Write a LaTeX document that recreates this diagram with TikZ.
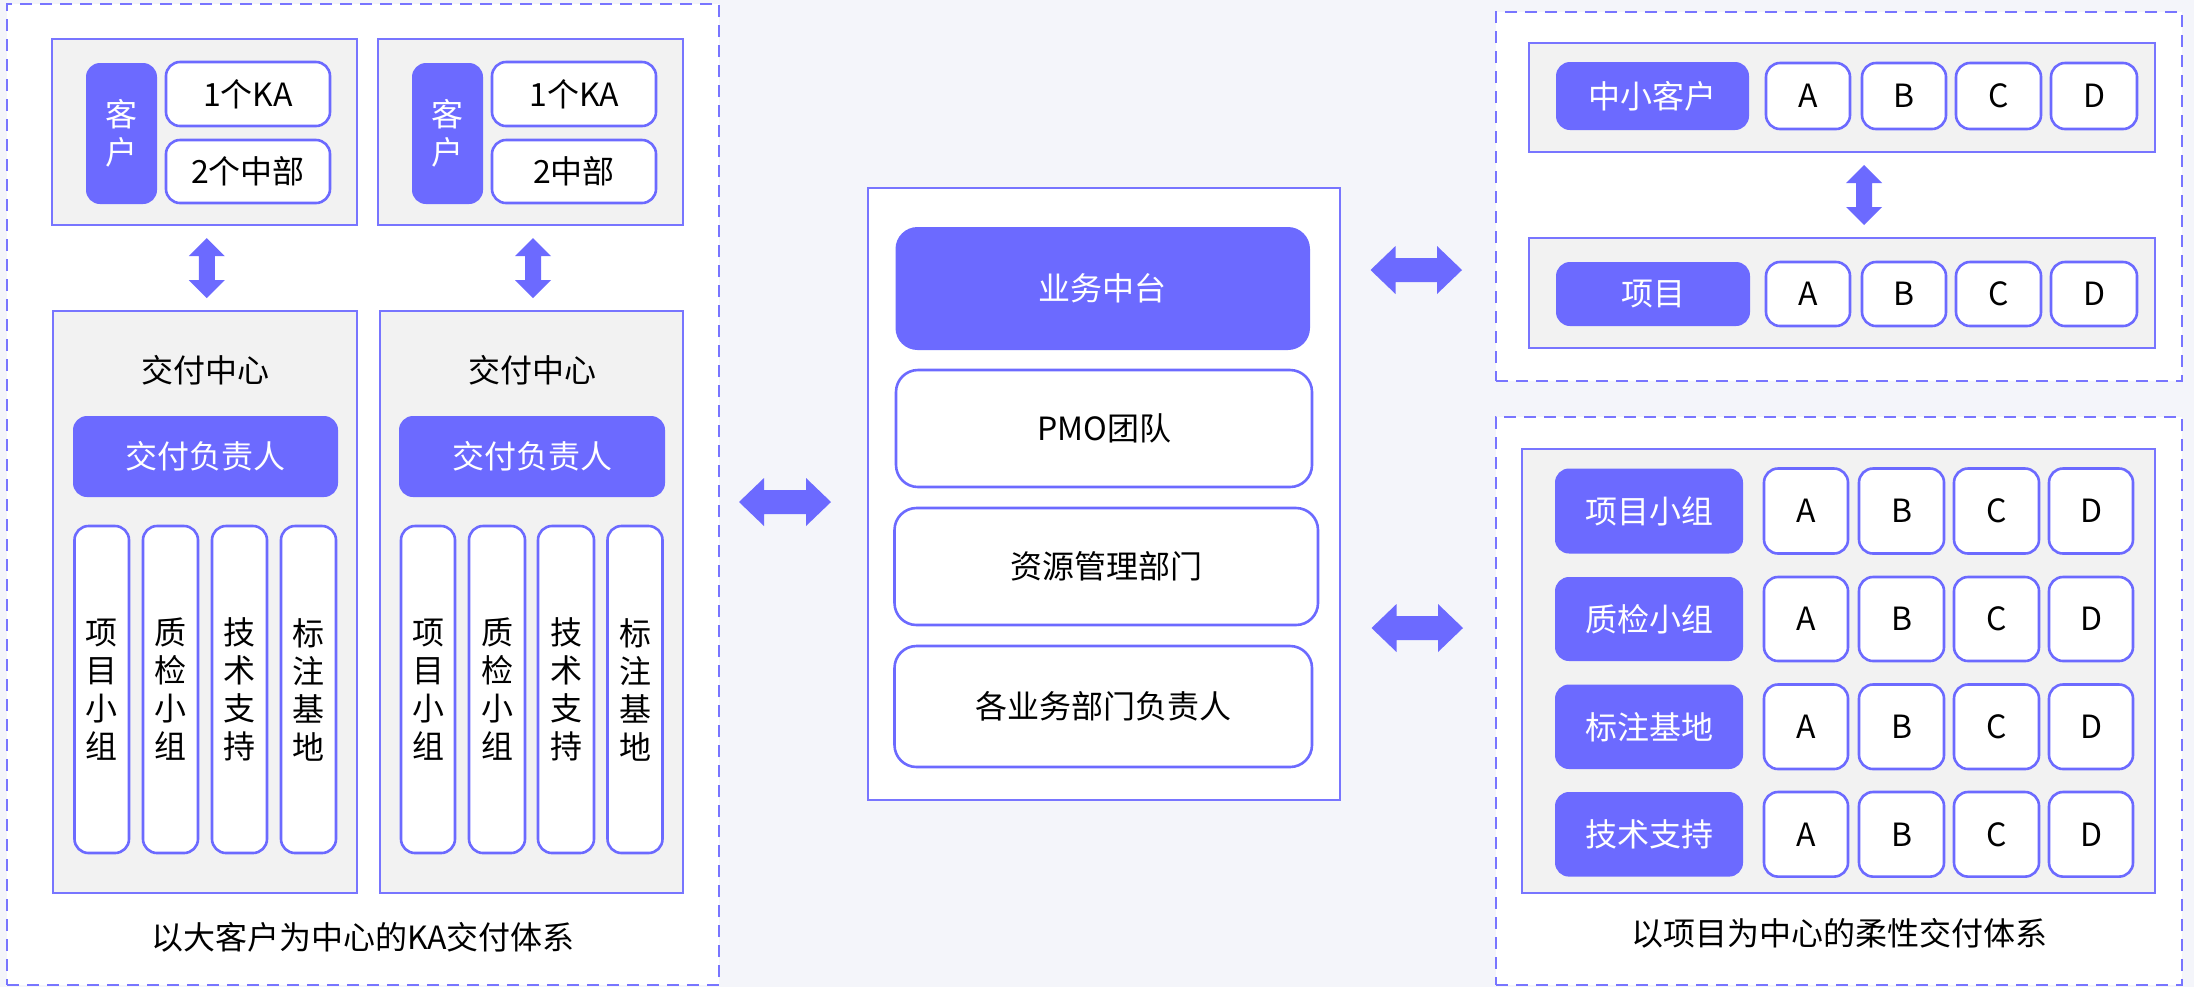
\documentclass[tikz,border=0pt]{standalone}
\usepackage{fontspec}
\setmainfont{Noto Sans CJK SC}
\usetikzlibrary{calc}
\definecolor{pur}{RGB}{108,106,255}
\definecolor{purl}{RGB}{120,117,255}
\definecolor{grayf}{RGB}{242,242,242}
\definecolor{bgc}{RGB}{244,245,250}
\newcommand\mkharrow[5]{\fill[arrowfill] let \p1=(#1), \p2=(#3), \p3=(0,#5), \p4=(\x1+#2,\y3), \p5=(\x2-#4,\y3) in
  (\p4) -- ++(12.5pt,12pt) -- ++(0pt,-6pt) -- (\x5-12.5pt,\y5+6pt) -- ++(0pt,6pt) -- (\p5)
  -- ++(-12.5pt,-12pt) -- ++(0pt,6pt) -- (\x4+12.5pt,\y4-6pt) -- ++(0pt,-6pt) -- cycle;}
\newcommand\mkvarrow[3]{\fill[arrowfill] let \p1=($(#1)!0.5!(#2)$), \p2=(\x1+#3,\y1) in
  (\x2,\y2+15pt) -- ++(9pt,-9pt) -- ++(-5pt,0pt) -- (\x2+4pt,\y2-6pt) -- ++(5pt,0pt) -- (\x2,\y2-15pt)
  -- ++(-9pt,9pt) -- ++(5pt,0pt) -- (\x2-4pt,\y2+6pt) -- ++(-5pt,0pt) -- cycle;}
\begin{document}
\begin{tikzpicture}[x=0.5pt,y=-0.5pt,
  font=\fontsize{16pt}{19pt}\selectfont,
  every node/.style={inner sep=0pt, outer sep=0pt, align=center},
  rect/.style n args={4}{minimum width={(#3-#1)*0.5pt}, minimum height={(#4-#2)*0.5pt},
     at={({(#1+#3)/2},{(#2+#4)/2})}, anchor=center},
  dashbox/.style={draw=purl, line width=1pt, dash pattern=on 6pt off 4pt, fill=white},
  graybox/.style={draw=purl, line width=1pt, fill=grayf},
  whitebox/.style={draw=purl, line width=1pt, fill=white},
  pbox/.style={fill=pur, rounded corners=7pt, text=white},
  wbox/.style={draw=pur, line width=1.3pt, fill=white, rounded corners=7pt},
  cbox/.style={draw=pur, line width=1.3pt, fill=white, rounded corners=11pt},
  cpbox/.style={fill=pur, rounded corners=11pt, text=white},
  arrowfill/.style={fill=pur},
  captxt/.style={text=black}]
\fill[bgc] (0,0) rectangle (2194,987);
\useasboundingbox (0,0) rectangle (2194,987);
% outer frames
\node[dashbox, rect={7}{4}{719}{985}] (LD) {};
\node[dashbox, rect={1496}{12}{2182}{381}] (TD) {};
\node[dashbox, rect={1496}{417}{2182}{985}] (BD) {};
\node[whitebox, rect={868}{188}{1339.5}{800}] (CB) {};
% left: customers
\node[graybox, rect={52}{39}{357}{225}] (K1) {};
\node[pbox, rect={86}{63}{157}{204}] (K1c) {客\\户};
\node[wbox, rect={166}{62}{330}{126}] (K1a) {1个KA};
\node[wbox, rect={166}{140}{330}{203}] (K1b) {2个中部};
\node[graybox, rect={378}{39}{683}{225}] (K2) {};
\node[pbox, rect={412}{63}{483}{204}] (K2c) {客\\户};
\node[wbox, rect={492}{62}{656}{126}] (K2a) {1个KA};
\node[wbox, rect={492}{140}{656}{203}] (K2b) {2中部};
% left: delivery centers
\node[graybox, rect={53}{311}{357}{893}] (C1) {};
\node[captxt] (C1t) at (205,370) {交付中心};
\node[pbox, rect={73}{416}{338}{497}] (C1p) {交付负责人};
\node[wbox, rect={74.5}{526}{129}{853}] (C1a) {项\\目\\小\\组};
\node[wbox, rect={143}{526}{198}{853}] (C1b) {质\\检\\小\\组};
\node[wbox, rect={212}{526}{267}{853}] (C1c) {技\\术\\支\\持};
\node[wbox, rect={281}{526}{336}{853}] (C1d) {标\\注\\基\\地};
\node[graybox, rect={380}{311}{683}{893}] (C2) {};
\node[captxt] (C2t) at (532,370) {交付中心};
\node[pbox, rect={399}{416}{665}{497}] (C2p) {交付负责人};
\node[wbox, rect={401}{526}{455}{853}] (C2a) {项\\目\\小\\组};
\node[wbox, rect={469}{526}{525}{853}] (C2b) {质\\检\\小\\组};
\node[wbox, rect={538}{526}{594}{853}] (C2c) {技\\术\\支\\持};
\node[wbox, rect={607.5}{526}{662.5}{853}] (C2d) {标\\注\\基\\地};
\node[captxt] (LDcap) at (363,937) {以大客户为中心的KA交付体系};
% center
\node[cpbox, rect={895.5}{227}{1310}{350}] (M1) {业务中台};
\node[cbox, rect={896}{370}{1312}{487}] (M2) {PMO团队};
\node[cbox, rect={894.5}{508}{1318}{625}] (M3) {资源管理部门};
\node[cbox, rect={894.5}{646}{1312}{767}] (M4) {各业务部门负责人};
% top right
\node[graybox, rect={1529}{43}{2155}{152}] (G1) {};
\node[pbox, rect={1556}{62}{1749}{130}] (G1l) {中小客户};
\node[graybox, rect={1529}{238}{2155}{348}] (G2) {};
\node[pbox, rect={1556}{262}{1750}{326}] (G2l) {项目};
\foreach \l/\xa/\xb in {A/1766/1850, B/1862/1946, C/1956/2041, D/2051/2137}{
  \node[wbox, rect={\xa}{63}{\xb}{129}] (G1\l) {\l};
  \node[wbox, rect={\xa}{262}{\xb}{326}] (G2\l) {\l};
}
% bottom right
\node[graybox, rect={1522}{449}{2155}{893}] (G3) {};
\foreach \n/\t/\ya/\yb in {1/项目小组/468.5/553.5, 2/质检小组/577/661, 3/标注基地/684.5/769, 4/技术支持/792/876.6}{
  \node[pbox, rect={1555}{\ya}{1743}{\yb}] (R\n) {\t};
  \foreach \l/\xa/\xb in {A/1764/1848, B/1859/1944, C/1954/2039, D/2049/2133}{
    \node[wbox, rect={\xa}{\ya}{\xb}{\yb}] (R\n\l) {\l};
  }
}
\node[captxt] (BDcap) at (1839,933) {以项目为中心的柔性交付体系};
% arrows
\mkvarrow{K1.south}{C1.north}{1pt}
\mkvarrow{K2.south}{C2.north}{1pt}
\mkvarrow{G1.south}{G2.north}{11pt}
\mkharrow{LD.east}{10pt}{CB.west}{18.5pt}{502}
\mkharrow{CB.east}{15.5pt}{TD.west}{17pt}{270}
\mkharrow{CB.east}{16pt}{BD.west}{16.5pt}{628}
\end{tikzpicture}
\end{document}
